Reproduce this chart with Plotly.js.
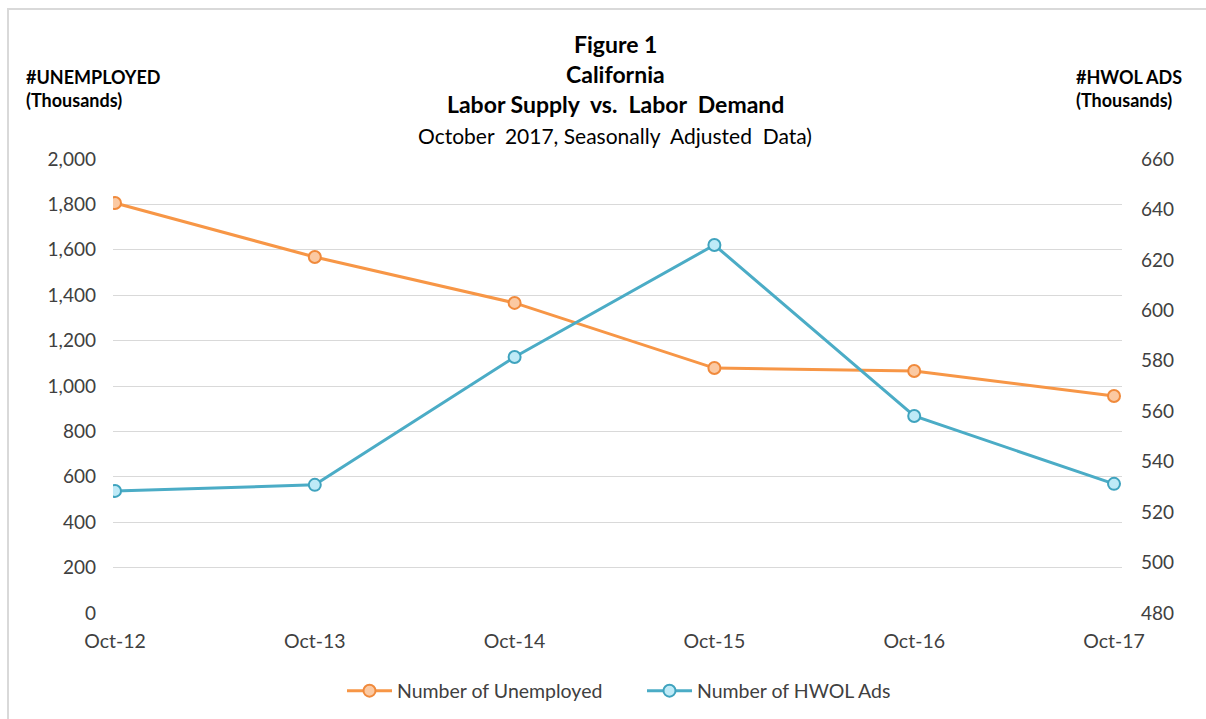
<!DOCTYPE html>
<html>
<head>
<meta charset="utf-8">
<script src="https://cdn.plot.ly/plotly-3.0.1.min.js"></script>
<style>
  html, body { margin: 0; padding: 0; background: #fff; }
  #wrap { position: relative; width: 1206px; height: 719px; overflow: hidden; }
  #chart { width: 1206px; height: 719px; }
  #frame { position: absolute; left: 7px; top: 8px; width: 1300px; height: 800px;
           border: 2px solid #d9d9d9; pointer-events: none; box-sizing: border-box; }
</style>
</head>
<body>
<div id="wrap">
  <div id="chart"></div>
  <div id="frame"></div>
</div>
<script>
const categories = ["Oct-12", "Oct-13", "Oct-14", "Oct-15", "Oct-16", "Oct-17"];
const unemployed = [1806, 1568, 1366, 1079, 1066, 956];
const hwolAds = [528.4, 530.8, 581.5, 625.9, 558.1, 531.2];
const leftTicks = [0, 200, 400, 600, 800, 1000, 1200, 1400, 1600, 1800, 2000];
const rightTicks = [480, 500, 520, 540, 560, 580, 600, 620, 640, 660];

const FONT = "Lato, 'Open Sans', sans-serif";
const xIdx = categories.map((_, i) => i);

const traces = [
  {
    x: xIdx, y: unemployed, name: "Number of Unemployed", type: "scatter", mode: "lines+markers",
    line: { color: "#F79646", width: 3 },
    marker: { size: 12, color: "#FBC9A2", line: { color: "#F08A3C", width: 2 } },
    yaxis: "y"
  },
  {
    x: xIdx, y: hwolAds, name: "Number of HWOL Ads", type: "scatter", mode: "lines+markers",
    line: { color: "#4BACC6", width: 3 },
    marker: { size: 12, color: "#BEEAF7", line: { color: "#3FA3BE", width: 2 } },
    yaxis: "y2"
  }
];

const layout = {
  width: 1206, height: 719,
  margin: { l: 113, r: 84, t: 159, b: 106, autoexpand: false },
  paper_bgcolor: "#ffffff", plot_bgcolor: "#ffffff",
  font: { family: FONT, size: 19, color: "#404040" },
  showlegend: true,
  legend: {
    orientation: "h", x: (342 - 113) / 1009, xanchor: "left", y: -(691 - 613) / 454, yanchor: "middle",
    font: { family: FONT, size: 19.5, color: "#404040" }, itemwidth: 45,
    entrywidth: 240, entrywidthmode: "pixels", tracegroupgap: 0
  },
  xaxis: {
    range: [-0.01, 5.04], tickmode: "array", tickvals: xIdx, ticktext: categories,
    showgrid: false, zeroline: false, showline: false, ticks: "",
    ticklabelstandoff: 14, tickfont: { family: FONT, size: 19.5, color: "#404040" }
  },
  yaxis: {
    range: [0, 2000], tickmode: "array", tickvals: leftTicks,
    ticktext: leftTicks.map(v => v.toLocaleString("en-US")),
    showgrid: true, gridcolor: "#d9d9d9", gridwidth: 1, zeroline: false, showline: false,
    ticks: "", ticklabelstandoff: 16, tickfont: { family: FONT, size: 19, color: "#404040" }
  },
  yaxis2: {
    range: [480, 660], overlaying: "y", side: "right", tickmode: "array", tickvals: rightTicks,
    showgrid: false, zeroline: false, showline: false, ticks: "",
    ticklabelstandoff: 18, tickfont: { family: FONT, size: 19, color: "#404040" }
  },
  annotations: [
    { text: "<b>Figure 1</b>", xref: "paper", yref: "paper", x: 0.498, y: 1 + (159 - 44) / 454, yanchor: "middle", showarrow: false, font: { family: FONT, size: 23, color: "#000" } },
    { text: "<b>California</b>", xref: "paper", yref: "paper", x: 0.498, y: 1 + (159 - 74) / 454, yanchor: "middle", showarrow: false, font: { family: FONT, size: 23, color: "#000" } },
    { text: "<b>Labor Supply  vs.  Labor  Demand</b>", xref: "paper", yref: "paper", x: 0.498, y: 1 + (159 - 104) / 454, yanchor: "middle", showarrow: false, font: { family: FONT, size: 23, color: "#000" } },
    { text: "October  2017, Seasonally  Adjusted  Data)", xref: "paper", yref: "paper", x: 0.498, y: 1 + (159 - 136) / 454, yanchor: "middle", showarrow: false, font: { family: FONT, size: 21, color: "#000" } },
    { text: "<b>#UNEMPLOYED<br>(Thousands)</b>", xref: "paper", yref: "paper", x: -(113 - 24) / 1009, xanchor: "left", align: "left", y: 1 + (159 - 88) / 454, yanchor: "middle", showarrow: false, font: { family: FONT, size: 18, color: "#000" } },
    { text: "<b>#HWOL ADS<br>(Thousands)</b>", xref: "paper", yref: "paper", x: 1 + (1184 - 1122) / 1009, xanchor: "right", align: "left", y: 1 + (159 - 88) / 454, yanchor: "middle", showarrow: false, font: { family: FONT, size: 18, color: "#000" } }
  ]
};

Plotly.newPlot("chart", traces, layout, { displayModeBar: false, staticPlot: true });
</script>
</body>
</html>
